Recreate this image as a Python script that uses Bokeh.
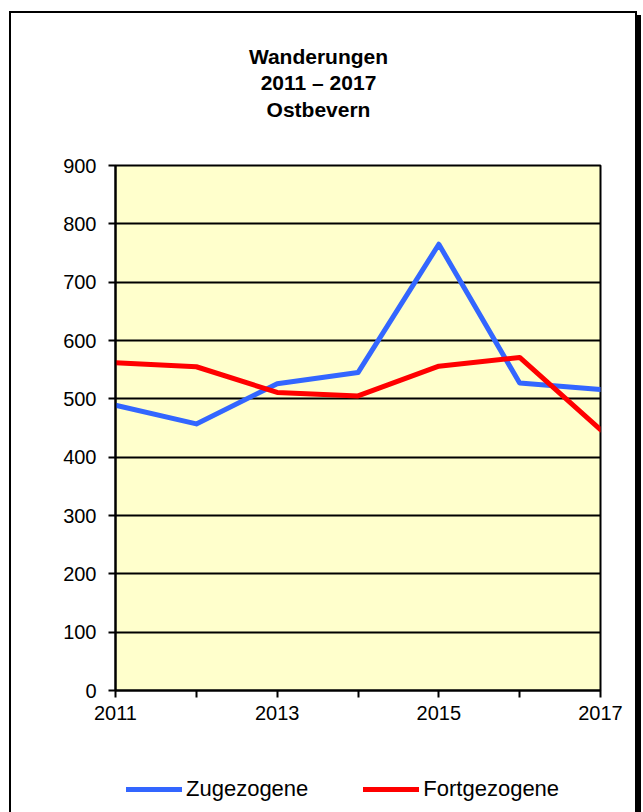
from bokeh.plotting import figure
from bokeh.layouts import column
from bokeh.models import Range1d, FixedTicker, Legend, LegendItem, Label
from bokeh.embed import file_html
from bokeh.resources import INLINE

years = [2011, 2012, 2013, 2014, 2015, 2016, 2017]
zugezogene = [489, 457, 526, 545, 765, 527, 516]
fortgezogene = [562, 555, 511, 505, 556, 571, 447]
x_tick_labels = {2011: "2011", 2012: "", 2013: "2013", 2014: "", 2015: "2015", 2016: "", 2017: "2017"}
y_ticks = [0, 100, 200, 300, 400, 500, 600, 700, 800, 900]
title_lines = ["Wanderungen", "2011 \u2013 2017", "Ostbevern"]
series_names = ["Zugezogene", "Fortgezogene"]
series_colors = ["#3366FF", "#FF0000"]

FONT = "Liberation Sans"
W = 624


def blank_fig(height, xr, yr):
    f = figure(width=W, height=height, x_range=xr, y_range=yr, title=None,
               output_backend="svg", toolbar_location=None, x_axis_type=None, y_axis_type=None,
               min_border_left=104, min_border_right=35, min_border_top=0, min_border_bottom=0)
    f.outline_line_color = None
    f.grid.grid_line_color = None
    f.background_fill_color = "white"
    f.border_fill_color = "white"
    return f


# title block
tf = blank_fig(137, Range1d(0, 485), Range1d(0, 137))
title_y = [94, 68, 41]
for txt, ty in zip(title_lines, title_y):
    tf.add_layout(Label(x=203, y=ty, text=txt, text_align="center", text_baseline="middle",
                        text_font=FONT, text_font_size="21px", text_font_style="bold",
                        text_color="black"))

# main chart
p = figure(width=W, height=603, x_range=Range1d(2011, 2017), y_range=Range1d(0, 900), title=None,
           output_backend="svg", toolbar_location=None,
           min_border_left=104, min_border_right=35, min_border_top=15, min_border_bottom=63)
p.background_fill_color = "#FFFFCC"
p.border_fill_color = "white"
p.outline_line_color = "black"
p.outline_line_width = 2

p.xaxis.ticker = FixedTicker(ticks=years)
p.xaxis.major_label_overrides = x_tick_labels
p.yaxis.ticker = FixedTicker(ticks=y_ticks)
for ax in (p.xaxis, p.yaxis):
    ax.axis_line_color = "black"
    ax.axis_line_width = 2
    ax.major_tick_line_color = "black"
    ax.major_tick_line_width = 2
    ax.major_tick_out = 7
    ax.major_tick_in = 0
    ax.minor_tick_line_color = None
    ax.major_label_text_font = FONT
    ax.major_label_text_font_size = "20px"
    ax.major_label_text_color = "black"
p.yaxis.major_label_standoff = 12
p.xaxis.major_label_standoff = 8

p.xgrid.grid_line_color = None
p.ygrid.grid_line_color = "black"
p.ygrid.grid_line_width = 2
p.ygrid.ticker = FixedTicker(ticks=y_ticks)

p.line(years, zugezogene, line_color=series_colors[0], line_width=5, line_cap="round", line_join="round")
p.line(years, fortgezogene, line_color=series_colors[1], line_width=5, line_cap="round", line_join="round")

# legend strip below the chart (proxy renderers fall outside its visible range)
lg = blank_fig(64, Range1d(0, 1), Range1d(0, 1))
k1 = lg.line(years, zugezogene, line_color=series_colors[0], line_width=5, line_cap="round")
k2 = lg.line(years, fortgezogene, line_color=series_colors[1], line_width=5, line_cap="round")
legend = Legend(items=[LegendItem(label=series_names[0], renderers=[k1]),
                       LegendItem(label=series_names[1], renderers=[k2])],
                orientation="horizontal", location=(11, 15),
                label_text_font=FONT, label_text_font_size="22px", label_text_color="black",
                glyph_width=56, glyph_height=24, label_height=24, label_standoff=4, spacing=55,
                border_line_color=None, background_fill_alpha=0, margin=0, padding=0)
lg.add_layout(legend, "center")

layout = column(tf, p, lg, spacing=0)
layout.styles = {"border": "2px solid black", "box-shadow": "4px 4px 0 black",
                 "margin-left": "9px", "margin-top": "11px", "background-color": "white"}

open("out.html", "w").write(file_html(layout, INLINE))
